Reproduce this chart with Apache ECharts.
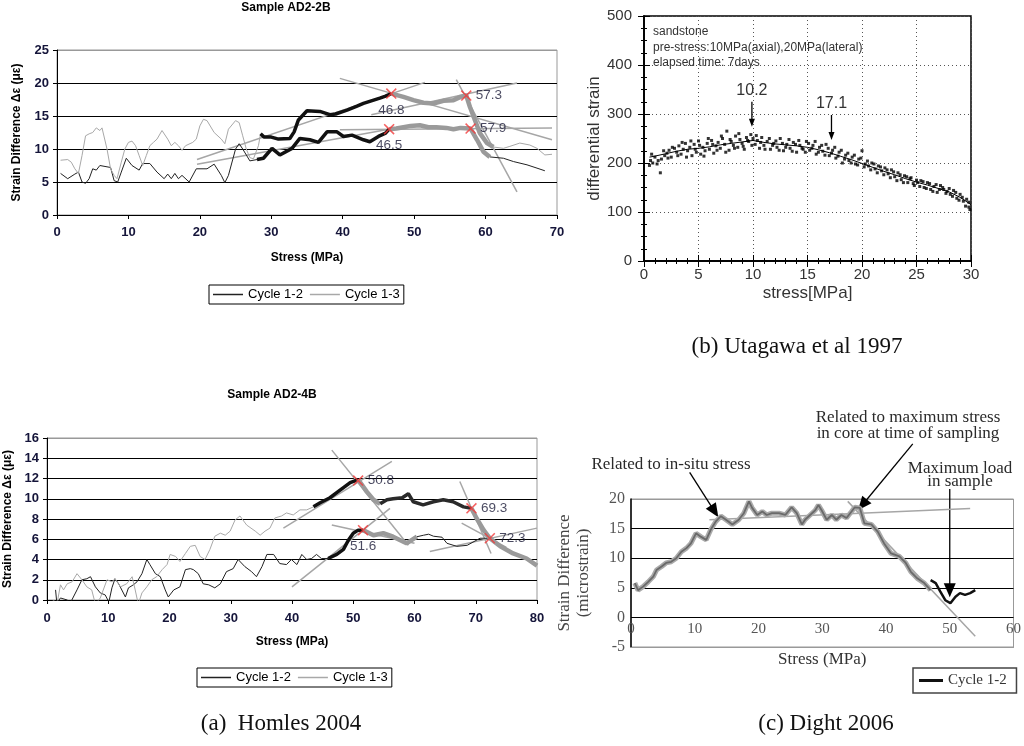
<!DOCTYPE html>
<html>
<head>
<meta charset="utf-8">
<title>Strain difference vs stress</title>
<script src="https://cdn.jsdelivr.net/npm/echarts@6.0.0/dist/echarts.min.js"></script>
<style>
html,body{margin:0;padding:0;background:#fff}
#main{width:1024px;height:746px}
</style>
</head>
<body>
<div id="main"></div>
<script>
var SANS = '"Liberation Sans", Arial, sans-serif';
var SERIF = '"Liberation Serif", "Times New Roman", serif';

// ---- (a) top : Sample AD2-2B ----
var a1Cycle12 = [[0.5,6.3],[1.5,5.5],[2.5,6.2],[3,6.5],[3.5,5.0],[4,4.8],[4.5,5.5],[5,7.0],[5.5,6.8],[6,7.5],[7,7.3],[7.5,7.2],[8,5.2],[8.5,5.0],[9,6.5],[9.7,8.6],[10.5,7.5],[11.5,6.8],[12,7.8],[13,7.8],[14,6.5],[15,5.5],[15.5,6.2],[16,5.5],[16.5,6.3],[17,5.5],[17.5,6.0],[18.5,5.0],[19.5,7.0],[21,7.0],[22,7.7],[23,6.0],[23.5,4.9],[24,6.0],[25,10.0],[25.5,10.8],[26,10.0],[27,8.2],[28,8.4]];
var a1Cycle12Rise = [[28,8.4],[28.9,8.6],[30.1,10.1],[31.2,9.1],[32.9,10.1],[34,11.6],[35.4,11.4],[36.6,11.0],[37.8,12.6],[39.2,12.6],[40.1,11.9],[41.3,12.1],[42.9,11.4],[43.8,11.1],[45,11.9],[46,12.4],[46.5,13.0]];
var a1Cycle12Top = [[46.5,13.0],[47.5,13.1],[48.5,13.3],[49.5,13.5],[50.8,13.6],[52,13.3],[53.1,13.3],[54.5,13.2],[55.5,13.0],[56.5,13.2],[57.9,13.1],[58.8,11.4],[59.7,9.6],[60.6,8.8]];
var a1Cycle12Tail = [[60.6,8.8],[62.5,8.6],[63.9,8.1],[65.8,7.6],[67.2,7.1],[68.3,6.7]];
var a1Cycle13 = [[0.5,8.3],[1.5,8.4],[2,8.0],[2.5,7.0],[3,6.3],[3.5,9.0],[4,12.0],[4.5,12.3],[5,12.5],[5.5,13.2],[6,12.8],[6.3,13.2],[7,10.0],[7.5,7.0],[8,6.0],[8.4,5.5],[9,8.0],[9.5,10.0],[10,11.0],[10.5,11.2],[11,10.5],[11.5,9.0],[12,7.5],[12.5,9.0],[13,10.5],[13.5,11.0],[14,11.5],[14.7,12.8],[15.5,11.5],[16,10.5],[16.5,11.0],[17,10.5],[17.5,9.8],[18,10.5],[19,11.0],[19.5,11.5],[20,13.5],[20.5,14.5],[21,14.3],[22,12.5],[23,11.5],[23.5,10.8],[24,13.0],[25,14.3],[25.5,14.0],[26,12.0],[26.5,10.0],[27,8.7],[27.5,8.5],[28.2,10.5],[28.5,12.3]];
var a1Cycle13Rise = [[28.5,12.3],[29,11.8],[30,11.8],[31,11.5],[32.6,11.6],[33.2,12.6],[33.8,14.4],[35,15.8],[36.8,15.7],[38.2,15.2],[39,15.3],[40.6,15.9],[42,16.5],[42.9,16.9],[44,17.3],[45.2,17.7],[46,18.0],[46.8,18.4]];
var a1Cycle13Top = [[46.8,18.4],[48.5,17.9],[49.9,17.4],[51.3,17.0],[52.7,16.9],[54.1,17.3],[55.5,17.4],[56.5,17.9],[57.3,18.1],[57.8,16.4],[58.5,14.4],[59.2,12.4],[60.2,10.9],[61.1,10.3]];
var a1Cycle13Tail = [[61.1,10.3],[62.5,10.1],[63.4,10.4],[64.8,10.9],[66.2,10.6],[67.2,10.1],[68.3,9.1],[69.3,9.2]];
var a1Fits = [[[39.6,20.7],[69.3,11.4]],[[19.6,8.4],[51.5,20.1]],[[19.6,7.7],[48,13.3]],[[39.6,12.9],[69.3,13.2]],[[44,15.2],[64.4,20]],[[55.9,20.5],[64.4,3.5]]];
var a1Marks = [[46.8,18.4,'46.8'],[57.3,18.1,'57.3'],[46.5,13.0,'46.5'],[57.9,13.1,'57.9']];

// ---- (a) bottom : Sample AD2-4B ----
var a2Cycle12 = [[1.4,1.0],[1.6,-0.3],[2.2,0.2],[3.3,0],[3.8,-0.3],[4.9,1.0],[5.7,2.0],[6.5,2.1],[7.1,2.3],[7.9,1.3],[8.7,0.7],[9.5,0.5],[10.1,-0.2],[10.6,1.2],[11.1,2.1],[11.7,1.6],[12.8,0.3],[13.3,1.2],[14.1,1.5],[14.7,1.8],[15.5,2.6],[16.3,4.0],[16.8,3.5],[17.7,2.6],[18.5,2.3],[19.3,1.0],[19.8,0.3],[20.7,1.0],[21.7,1.3],[22.6,3.0],[23.4,3.1],[23.9,3.0],[24.7,2.6],[25.5,1.6],[26.4,1.5],[27.4,1.2],[28.3,1.6],[29.3,2.8],[30.4,3.1],[31.2,4.0],[32.3,3.3],[33.4,2.8],[34.2,2.3],[35.1,3.3],[35.9,4.5],[37,4.5],[38,3.6],[39.1,3.5],[39.9,4.0],[40.8,3.5],[41.6,4.5],[42.4,4.0],[43.2,4.1],[44,4.5],[44.8,4.1],[45.9,4.1]];
var a2Cycle12Rise = [[45.9,4.1],[47.3,4.5],[48.4,5.0],[49.2,5.9],[50,6.6],[50.8,6.9],[51.6,6.9]];
var a2Cycle12Top = [[51.6,6.9],[53.3,6.4],[54.9,6.6],[56.5,6.25],[58.7,5.6],[60.4,6.25]];
var a2Cycle12Tail = [[60.4,6.25],[61.5,6.4],[62.3,6.5],[63.1,6.3],[64.5,6.2],[65.3,5.6],[66.9,5.3],[68.6,5.4],[70.7,6.1],[72.3,6.1]];
var a2Cycle13 = [[0.5,-0.4],[1.1,0],[1.6,-0.5],[2.2,1.5],[2.7,1.0],[3.3,1.6],[4.1,1.8],[4.9,2.6],[5.7,2.0],[6.5,1.3],[7.3,1.0],[7.9,-0.4],[8.7,0.2],[9.8,2.0],[10.6,1.8],[11.1,2.1],[12,1.3],[13,1.6],[13.9,2.3],[14.4,1.0],[14.9,-0.4],[15.5,0.7],[16.3,1.3],[17.1,2.0],[17.9,2.3],[18.8,3.0],[19.6,3.5],[20.1,4.5],[21,4.3],[21.7,3.8],[22.6,4.6],[23.4,5.3],[24.2,5.4],[25,4.3],[25.8,4.0],[26.6,5.0],[27.4,6.3],[28.3,6.6],[29.1,6.4],[29.9,6.8],[30.7,7.9],[31.5,8.3],[32.6,7.4],[34,6.8],[34.8,6.4],[35.6,6.8],[36.4,7.1],[37.2,8.1],[38.3,8.3],[39.1,8.6],[40.2,8.4],[41.3,8.9],[42.4,8.9],[43.5,9.2]];
var a2Cycle13Rise = [[43.5,9.2],[44.6,9.6],[46.2,10.1],[47.3,10.6],[48.4,11.1],[49.5,11.6],[50.8,11.9]];
var a2Cycle13Drop = [[50.8,11.9],[52.2,10.7],[53.3,9.9],[54.4,9.5]];
var a2Cycle13Plateau = [[54.4,9.5],[55.5,9.9],[56.5,10.0],[58,10.1],[59,10.5],[59.8,9.7],[61.4,9.4],[63.1,9.7],[64.7,9.9],[66.3,9.7],[68,9.2],[69.3,9.05]];
var a2Cycle13End = [[69.3,9.05],[70.2,8.0],[71.3,6.9],[72.3,6.1],[74,5.3],[76.1,4.6],[78.3,4.1],[80,3.4]];
var a2Fits = [[[46.5,14.8],[59,5.4]],[[38.6,7.1],[56.3,13.7]],[[40,1.3],[56,9.05]],[[46.5,7.4],[60,5.6]],[[62.5,4.8],[80,7.1]],[[67.7,7.6],[75,5.2]],[[67.4,11.7],[72.5,4.6]]];
var a2Marks = [[50.8,11.8,'50.8'],[51.6,6.9,'51.6'],[69.3,9.05,'69.3'],[72.3,6.1,'72.3']];

// ---- (b) Utagawa et al 1997 ----
var bPoints = [[0.5,195],[0.6,205],[0.8,200],[1,212],[1.2,198],[1.5,180],[1.6,208],[1.9,215],[2.1,220],[2.3,226],[2.5,212],[2.8,230],[3,222],[3.2,235],[3.4,218],[3.6,228],[3.8,240],[4,225],[4.2,232],[4.4,215],[4.6,238],[4.8,222],[5,245],[5.2,218],[5.4,232],[5.6,225],[5.8,240],[6,228],[6.2,246],[6.4,220],[6.6,235],[6.8,242],[7,230],[7.2,250],[7.4,238],[7.6,265],[7.8,226],[8,244],[8.2,236],[8.4,255],[8.6,232],[8.8,248],[9,240],[9.2,228],[9.4,252],[9.6,244],[9.8,258],[10,250],[10.2,238],[10.4,246],[10.6,230],[10.8,252],[11,236],[11.3,244],[11.6,228],[11.9,240],[12.2,232],[12.5,250],[12.8,225],[13.1,238],[13.4,230],[13.7,242],[14,222],[14.3,236],[14.6,228],[14.9,244],[15.2,226],[15.5,236],[15.8,218],[16.1,232],[16.4,224],[16.7,238],[17,215],[17.3,226],[17.6,210],[17.9,222],[18.2,200],[18.5,216],[18.8,205],[19.1,212],[19.4,198],[19.7,208],[20,225],[20.2,192],[20.5,204],[20.8,186],[21.1,198],[21.4,180],[21.7,192],[22,176],[22.3,186],[22.6,170],[22.9,182],[23.2,164],[23.5,176],[23.8,160],[24.1,172],[24.4,168],[24.7,158],[25,165],[25.3,152],[25.6,162],[25.9,148],[26.2,158],[26.5,142],[26.8,156],[27.1,146],[27.4,150],[27.7,138],[28,148],[28.3,132],[28.6,140],[28.9,124],[29.2,130],[29.5,112],[29.8,120],[29.9,105],
  [0.7,218],[1.3,205],[1.8,225],[2.2,210],[2.6,232],[3.1,215],[3.5,242],[3.9,212],[4.3,245],[4.7,228],[5.1,236],[5.5,214],[5.9,250],[6.3,238],[6.7,226],[7.1,255],[7.5,222],[7.9,248],[8.3,230],[8.7,260],[9.1,234],[9.5,246],[9.9,236],[10.3,256],[10.7,242],[11.1,228],[11.5,250],[11.8,236],[12.1,245],[12.4,226],[12.7,240],[13,232],[13.3,248],[13.6,224],[13.9,238],[14.2,246],[14.5,230],[14.8,222],[15.1,240],[15.4,230],[15.7,244],[16,222],[16.3,236],[16.6,216],[16.9,230],[17.2,220],[17.5,232],[17.8,214],[18.1,226],[18.4,208],[18.7,220],[19,200],[19.3,216],[19.6,196],[19.9,210],[20.3,198],[20.6,194],[20.9,200],[21.2,188],[21.5,194],[21.8,184],[22.1,190],[22.4,178],[22.7,186],[23,172],[23.3,180],[23.6,166],[23.9,174],[24.2,160],[24.5,170],[24.8,154],[25.1,160],[25.4,164],[25.7,150],[26,160],[26.3,146],[26.6,152],[26.9,140],[27.2,154],[27.5,146],[27.8,142],[28.1,136],[28.4,144],[28.7,128],[29,136],[29.3,122],[29.6,126],[29.8,110]];
var bCurve = [[0.5,212],[1,214],[2,219],[3,224],[4,228],[5,230],[6,233],[7,237],[8,240],[9,243],[10,246],[11,242],[12,239],[13,237],[14,235],[15,232],[16,227],[17,221],[18,214],[19,207],[20,199],[21,191],[22,183],[23,176],[24,168],[25,161],[26,155],[27,148],[28,141],[29,130],[30,115]];
var bNotes = ['sandstone', 'pre-stress:10MPa(axial),20MPa(lateral)', 'elapsed time: 7days'];
var bArrows = [{label:'10.2', from:[9.9,325], to:[9.9,274]}, {label:'17.1', from:[17.2,298], to:[17.2,247]}];

// ---- (c) Dight 2006 ----
var cGrey = [[0.6,5.8],[1.1,4.6],[1.9,5.2],[2.7,6.0],[3.5,6.9],[4.0,8.0],[4.8,8.6],[5.5,9.2],[6.3,9.4],[7.1,10.0],[7.9,11.1],[8.7,11.7],[9.4,12.5],[10.2,14.2],[11.0,13.6],[11.8,13.1],[12.5,14.8],[13.3,16.2],[14.1,17.1],[14.9,16.5],[15.9,15.7],[16.9,16.5],[17.7,17.6],[18.5,19.6],[19.0,18.5],[19.8,17.3],[20.6,17.9],[21.3,17.3],[22.1,17.6],[23.2,17.6],[24.2,17.3],[25.2,18.6],[26.0,17.6],[26.8,15.7],[27.3,16.5],[28.1,17.3],[28.9,18.1],[29.4,19.0],[29.9,18.1],[30.7,16.5],[31.5,17.3],[32.2,16.5],[33.0,17.3],[33.8,16.8],[34.6,17.9],[35.1,18.6],[35.9,18.5],[36.6,15.9],[37.7,15.7],[38.7,14.5],[39.7,12.5],[40.8,10.8],[42.1,10.3],[43.1,9.2],[43.9,7.7],[44.9,6.6],[46.0,5.8],[47.0,4.6]];
var cBlack = [[47.0,6.3],[47.8,5.8],[48.5,4.4],[49.3,2.9],[50.1,2.4],[50.9,3.5],[51.6,4.1],[52.4,3.8],[53.2,4.1],[54.0,4.6]];
var cFits = [[[12.3,16.5],[53.2,18.4]],[[34,19.6],[54,-3.2]]];
var cArrows = [{from:[9.2,24.5], to:[13.7,16.9]}, {from:[44.2,29.3], to:[35.6,18.1]}, {from:[50.0,21.7], to:[50.0,3.4]}];

var XMARK = 'path://M0,1L1,0L5,4L9,0L10,1L6,5L10,9L9,10L5,6L1,10L0,9L4,5Z';

function seg(name, xi, yi, data, color, width, z) {
    return {type:'line', name:name, xAxisIndex:xi, yAxisIndex:yi, data:data,
        showSymbol:false, symbol:'none', silent:true, z:z || 2,
        lineStyle:{color:color, width:width}, itemStyle:{color:color}};
}
function fits(xi, yi, list) {
    return list.map(function (s) { return seg('fit', xi, yi, s, '#a6a6a6', 1.5, 1); });
}
function marks(xi, yi, list, pos) {
    return {type:'scatter', xAxisIndex:xi, yAxisIndex:yi, symbol:XMARK, symbolSize:11, z:5, silent:true,
        itemStyle:{color:'#f23a3a'},
        data:list.map(function (m, i) {
            return {value:m, label:{show:true, position:pos[i], distance:4, formatter:m[2],
                color:'#1c1c38', fontSize:13.5, fontFamily:SANS}};
        })};
}
function lineColors(n) {
    var c = [];
    for (var i = 0; i < n; i++) c.push(i === n - 1 ? '#999' : '#000');
    return c;
}

var excelLabel = {fontSize:13, fontWeight:'bold', color:'#15153a', fontFamily:SANS};
var excelName = {fontSize:12, fontWeight:'bold', color:'#000', fontFamily:SANS};
var excelLegend = {icon:'rect', itemWidth:30, itemHeight:1.5, itemGap:7, padding:[3, 4], borderColor:'#000', borderWidth:1,
    selectedMode:false, textStyle:{fontSize:13, color:'#000', fontFamily:SANS}};

var series = [].concat(
    fits(0, 0, a1Fits),
    [seg('Cycle 1-2', 0, 0, a1Cycle12, '#222', 1),
     seg('Cycle 1-3', 0, 0, a1Cycle13, '#a8a8a8', 1),
     seg('a1 12 rise', 0, 0, a1Cycle12Rise, '#111', 3.5, 3),
     seg('a1 13 rise', 0, 0, a1Cycle13Rise, '#111', 3.5, 3),
     seg('a1 12 top', 0, 0, a1Cycle12Top, '#9a9a9a', 4.5, 3),
     seg('a1 13 top', 0, 0, a1Cycle13Top, '#9a9a9a', 4.5, 3),
     seg('a1 12 tail', 0, 0, a1Cycle12Tail, '#222', 1),
     seg('a1 13 tail', 0, 0, a1Cycle13Tail, '#a8a8a8', 1),
     marks(0, 0, a1Marks, ['bottom', 'right', 'bottom', 'right'])],
    fits(3, 3, a2Fits),
    [seg('Cycle 1-2', 3, 3, a2Cycle12, '#222', 1),
     seg('Cycle 1-3', 3, 3, a2Cycle13, '#a8a8a8', 1),
     seg('a2 12 rise', 3, 3, a2Cycle12Rise, '#111', 3.5, 3),
     seg('a2 12 top', 3, 3, a2Cycle12Top, '#9a9a9a', 4.5, 3),
     seg('a2 12 tail', 3, 3, a2Cycle12Tail, '#222', 1),
     seg('a2 13 rise', 3, 3, a2Cycle13Rise, '#111', 3.5, 3),
     seg('a2 13 drop', 3, 3, a2Cycle13Drop, '#9a9a9a', 4.5, 3),
     seg('a2 13 plateau', 3, 3, a2Cycle13Plateau, '#2a2a2a', 3.5, 3),
     seg('a2 13 end', 3, 3, a2Cycle13End, '#9a9a9a', 4.5, 3),
     marks(3, 3, a2Marks, ['right', 'bottom', 'right', 'right'])],
    [{type:'scatter', name:'measured', xAxisIndex:1, yAxisIndex:1, data:bPoints, symbol:'rect',
      symbolSize:3, itemStyle:{color:'#000'}, silent:true},
     seg('trend', 1, 1, bCurve, '#000', 1, 3)],
    fits(4, 4, cFits),
    [seg('c grey', 4, 4, cGrey, '#aaa', 5, 2),
     seg('c grey core', 4, 4, cGrey, '#6a6a6a', 1.8, 3),
     seg('Cycle 1-2 ', 4, 4, cBlack, '#111', 2.5, 3)]
);

var chart = echarts.init(document.getElementById('main'));
chart.setOption({
    animation:false,
    backgroundColor:'#fff',
    textStyle:{fontFamily:SANS},
    grid:[
        {left:57, top:50, width:500, height:165, show:true, borderColor:'#999', borderWidth:1},
        {left:644, top:16, width:327, height:245, show:true, borderColor:'#000', borderWidth:1.5},
        {left:47, top:438, width:490, height:162, show:true, borderColor:'#999', borderWidth:1},
        {left:631, top:499, width:385, height:148, show:true, borderColor:'#999', borderWidth:1}
    ],
    xAxis:[
        {type:'value', gridIndex:0, min:0, max:70, interval:10,
         axisLine:{lineStyle:{color:'#000', width:1}}, axisTick:{show:true, length:4, lineStyle:{color:'#000'}},
         axisLabel:Object.assign({margin:11}, excelLabel), splitLine:{show:false},
         name:'Stress (MPa)', nameLocation:'middle', nameGap:37, nameTextStyle:excelName},
        {type:'value', gridIndex:1, min:0, max:30, interval:5,
         axisLine:{lineStyle:{color:'#000', width:1.5}}, axisTick:{show:true, inside:true, length:6, lineStyle:{color:'#000'}},
         minorTick:{show:true, splitNumber:5, length:3, lineStyle:{color:'#000'}},
         axisLabel:{fontSize:15, color:'#333', margin:6, fontFamily:SANS},
         splitLine:{show:true, lineStyle:{color:'#555', width:1, type:[1, 3]}},
         name:'stress[MPa]', nameLocation:'middle', nameGap:24, nameTextStyle:{fontSize:17, color:'#333', fontFamily:SANS}},
        {type:'value', gridIndex:1, position:'top', min:0, max:30, interval:5,
         axisLine:{lineStyle:{color:'#000', width:1.5}}, axisTick:{show:true, inside:true, length:6, lineStyle:{color:'#000'}},
         minorTick:{show:true, splitNumber:5, length:3, lineStyle:{color:'#000'}},
         axisLabel:{show:false}, splitLine:{show:false}},
        {type:'value', gridIndex:2, min:0, max:80, interval:10,
         axisLine:{lineStyle:{color:'#000', width:1}}, axisTick:{show:true, length:4, lineStyle:{color:'#000'}},
         axisLabel:Object.assign({margin:12}, excelLabel), splitLine:{show:false},
         name:'Stress (MPa)', nameLocation:'middle', nameGap:36, nameTextStyle:excelName},
        {type:'value', gridIndex:3, min:0, max:60, interval:10,
         axisLine:{onZero:false, lineStyle:{color:'#999', width:1}}, axisTick:{show:false},
         axisLabel:{fontSize:15, color:'#555', margin:-25, fontFamily:SERIF}, splitLine:{show:false},
         name:'Stress (MPa)', nameLocation:'middle', nameGap:4, nameTextStyle:{fontSize:17, color:'#333', fontFamily:SERIF}}
    ],
    yAxis:[
        {type:'value', gridIndex:0, min:0, max:25, interval:5,
         axisLine:{show:true, lineStyle:{color:'#000', width:1}}, axisTick:{show:true, length:4, lineStyle:{color:'#000'}},
         axisLabel:Object.assign({margin:8}, excelLabel),
         splitLine:{show:true, lineStyle:{color:lineColors(6), width:1.2}},
         name:'Strain Difference \u0394\u03b5 (\u03bc\u03b5)', nameLocation:'middle', nameGap:34, nameTextStyle:excelName},
        {type:'value', gridIndex:1, min:0, max:500, interval:100,
         axisLine:{show:true, lineStyle:{color:'#000', width:1.5}}, axisTick:{show:true, inside:true, length:6, lineStyle:{color:'#000'}},
         minorTick:{show:true, splitNumber:4, length:3, lineStyle:{color:'#000'}},
         axisLabel:{fontSize:15, color:'#333', margin:12, fontFamily:SANS},
         splitLine:{show:true, lineStyle:{color:'#555', width:1, type:[1, 3]}},
         name:'differential strain', nameLocation:'middle', nameGap:38, nameTextStyle:{fontSize:17, color:'#333', fontFamily:SANS}},
        {type:'value', gridIndex:1, position:'right', min:0, max:500, interval:100,
         axisLine:{show:true, lineStyle:{color:'#000', width:1.5}}, axisTick:{show:true, inside:true, length:6, lineStyle:{color:'#000'}},
         minorTick:{show:true, splitNumber:4, length:3, lineStyle:{color:'#000'}},
         axisLabel:{show:false}, splitLine:{show:false}},
        {type:'value', gridIndex:2, min:0, max:16, interval:2,
         axisLine:{show:true, lineStyle:{color:'#000', width:1}}, axisTick:{show:true, length:4, lineStyle:{color:'#000'}},
         axisLabel:Object.assign({margin:8}, excelLabel),
         splitLine:{show:true, lineStyle:{color:lineColors(9), width:1.2}},
         name:'Strain Difference \u0394\u03b5 (\u03bc\u03b5)', nameLocation:'middle', nameGap:33, nameTextStyle:excelName},
        {type:'value', gridIndex:3, min:-5, max:20, interval:5,
         axisLine:{show:true, lineStyle:{color:'#000', width:1.5}}, axisTick:{show:false},
         axisLabel:{fontSize:16, color:'#555', margin:6, fontFamily:SERIF},
         splitLine:{show:true, lineStyle:{color:['#999', '#000', '#000', '#000', '#000', '#999'], width:1.2}},
         name:'Strain Difference\n(microstrain)', nameLocation:'middle', nameGap:38,
         nameTextStyle:{fontSize:17, color:'#444', fontFamily:SERIF, lineHeight:19}}
    ],
    legend:[
        Object.assign({left:209, top:285, data:['Cycle 1-2', 'Cycle 1-3']}, excelLegend),
        Object.assign({left:197, top:668, data:['Cycle 1-2', 'Cycle 1-3']}, excelLegend),
        {left:913, top:668, data:['Cycle 1-2 '], icon:'rect', itemWidth:24, itemHeight:3, borderColor:'#444', borderWidth:1.5,
         padding:[5, 6], selectedMode:false, textStyle:{fontSize:15, color:'#333', fontFamily:SERIF}}
    ],
    series:series
});

// annotations: arrows are placed through the chart's own coordinate systems
function arrow(p0, p1, len, half, width) {
    var dx = p1[0] - p0[0], dy = p1[1] - p0[1], d = Math.sqrt(dx * dx + dy * dy);
    var ux = dx / d, uy = dy / d, bx = p1[0] - ux * len, by = p1[1] - uy * len;
    return [
        {type:'line', silent:true, shape:{x1:p0[0], y1:p0[1], x2:bx + ux, y2:by + uy}, style:{stroke:'#000', lineWidth:width}},
        {type:'polygon', silent:true, shape:{points:[[p1[0], p1[1]], [bx - uy * half, by + ux * half], [bx + uy * half, by - ux * half]]}, style:{fill:'#000'}}
    ];
}
function text(x, y, s, font, align, color) {
    return {type:'text', silent:true, x:x, y:y, style:{text:s, font:font, fill:color || '#222', textAlign:align || 'center', textVerticalAlign:'middle'}};
}

var g = [];
g.push(text(286, 8, 'Sample AD2-2B', 'bold 12px ' + SANS, 'center', '#000'));
g.push(text(272, 395, 'Sample AD2-4B', 'bold 12px ' + SANS, 'center', '#000'));
bNotes.forEach(function (s, i) { g.push(text(653, 32 + i * 15.5, s, '12px ' + SANS, 'left', '#333')); });
bArrows.forEach(function (a) {
    var p0 = chart.convertToPixel({xAxisIndex:1, yAxisIndex:1}, a.from);
    var p1 = chart.convertToPixel({xAxisIndex:1, yAxisIndex:1}, a.to);
    g = g.concat(arrow(p0, p1, 8, 3, 1.3));
    g.push(text(p0[0], p0[1] - 11, a.label, '16px ' + SANS, 'center', '#333'));
});
cArrows.forEach(function (a) {
    var p0 = chart.convertToPixel({xAxisIndex:4, yAxisIndex:4}, a.from);
    var p1 = chart.convertToPixel({xAxisIndex:4, yAxisIndex:4}, a.to);
    g = g.concat(arrow(p0, p1, 14, 6, 1.3));
});
var cFont = '17px ' + SERIF;
g.push(text(908, 418, 'Related to maximum stress', cFont, 'center', '#2a2a2a'));
g.push(text(908, 434, 'in core at time of sampling', cFont, 'center', '#2a2a2a'));
g.push(text(671, 465, 'Related to in-situ stress', cFont, 'center', '#2a2a2a'));
g.push(text(960, 469, 'Maximum load', cFont, 'center', '#2a2a2a'));
g.push(text(960, 482, 'in sample', cFont, 'center', '#2a2a2a'));
g.push(text(797, 347, '(b) Utagawa et al 1997', '23px ' + SERIF, 'center', '#111'));
g.push(text(281, 724, '(a)  Homles 2004', '23px ' + SERIF, 'center', '#111'));
g.push(text(826, 724, '(c) Dight 2006', '23px ' + SERIF, 'center', '#111'));
chart.setOption({graphic:g});
</script>
</body>
</html>
